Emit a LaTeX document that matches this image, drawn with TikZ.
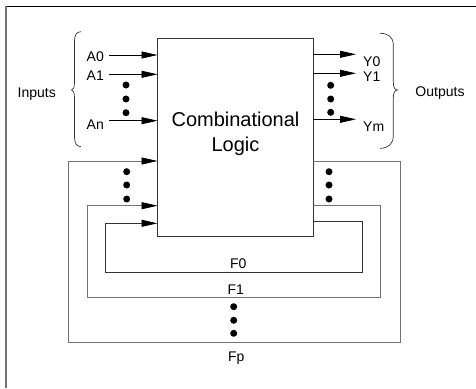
\documentclass[tikz,border=0pt]{standalone}
\usepackage{fontspec}
\setmainfont{Liberation Sans}
\usetikzlibrary{arrows.meta}
\begin{document}
\begin{tikzpicture}[x=1pt,y=-1pt,
  lbl/.style={font=\fontsize{14}{16}\selectfont, inner sep=0pt},
  arr/.style={-{Triangle[length=16pt,width=7pt,color=black]}, line width=0.8pt},
  bigdot/.style={circle, fill=black, inner sep=0pt, minimum size=7pt},
  fbdark/.style={line width=0.8pt, draw=black!80},
  fbgray/.style={line width=0.8pt, draw=black!55},
  brc/.style={line width=0.7pt, draw=black!80}]
\useasboundingbox (0,0) rectangle (476,388);
\fill[white] (0,0) rectangle (476,388);
% frame (only top and left edges visible)
\draw[line width=1pt, black] (6,6.5) -- (476,6.5);
\draw[line width=1.2pt, black!55] (6,6) -- (6,388);
% combinational logic box
\node[draw=black!80, line width=0.8pt, minimum width=155.8pt, minimum height=198pt, inner sep=0pt] (logic) at (235.4,137) {};
\node[align=center, font=\fontsize{20}{24.5}\selectfont, inner sep=0pt] (ltext) at (235.5,134) {Combinational\\Logic};
% input arrows
\coordinate (ia0) at (109.3,55); \coordinate (ib0) at (157.5,55);
\coordinate (ia1) at (109.3,74.3); \coordinate (ib1) at (157.5,74.3);
\coordinate (ian) at (109.3,120.7); \coordinate (ibn) at (157.5,120.7);
\draw[arr] (ia0) -- (ib0);
\draw[arr] (ia1) -- (ib1);
\draw[arr] (ian) -- (ibn);
\node[lbl, anchor=base east] (A0) at (104,61.7) {A0};
\node[lbl, anchor=base east] (A1) at (104,80.7) {A1};
\node[lbl, anchor=base east] (An) at (104,129.3) {An};
\node[bigdot] (di1) at (126,85) {};
\node[bigdot] (di2) at (126,99) {};
\node[bigdot] (di3) at (126,112.7) {};
% output arrows
\coordinate (oa0) at (313.3,54.3); \coordinate (ob0) at (356,54.3);
\coordinate (oa1) at (313.3,73.3); \coordinate (ob1) at (356,73.3);
\coordinate (oam) at (313.3,119.3); \coordinate (obm) at (356,119.3);
\draw[arr] (oa0) -- (ob0);
\draw[arr] (oa1) -- (ob1);
\draw[arr] (oam) -- (obm);
\node[lbl, anchor=base west] (Y0) at (363,66.3) {Y0};
\node[lbl, anchor=base west] (Y1) at (363,81.5) {Y1};
\node[lbl, anchor=base west] (Ym) at (363,131.3) {Ym};
\node[bigdot] (do1) at (330.7,85.3) {};
\node[bigdot] (do2) at (330.7,99) {};
\node[bigdot] (do3) at (330.7,112.3) {};
% braces
\draw[brc] (81,31.7) .. controls (76.5,31.7) and (74.5,35) .. (74.5,41)
  -- (74.5,82) .. controls (74.5,87.5) and (73.5,90) .. (71.5,90)
  .. controls (73.5,90) and (74.5,92.5) .. (74.5,98)
  -- (74.5,137) .. controls (74.5,143) and (76.5,146.7) .. (81,146.7);
\draw[brc] (380,33.3) .. controls (388,33.3) and (393.3,37) .. (393.3,45)
  -- (393.3,82) .. controls (393.3,87.5) and (395,90) .. (397.5,90)
  .. controls (395,90) and (393.3,92.5) .. (393.3,98)
  -- (393.3,136) .. controls (393.3,144) and (388,148.3) .. (380,148.3);
\node[lbl, anchor=base] (inputs) at (36.7,97.3) {Inputs};
\node[lbl, anchor=base] (outputs) at (440,96.7) {Outputs};
% feedback Fp
\coordinate (p1) at (313.3,161); \coordinate (p2) at (400,161);
\coordinate (p3) at (400,342.7); \coordinate (p4) at (68,342.7);
\coordinate (p5) at (68,161); \coordinate (p6) at (157.5,161);
\draw[fbgray] (p1) -- (p2) -- (p3) -- (p4) -- (p5);
\draw[arr, draw=black!55] (p5) -- (p6);
% feedback F1
\coordinate (q1) at (313.3,205.7); \coordinate (q2) at (380.7,205.7);
\coordinate (q3) at (380.7,297); \coordinate (q4) at (87.3,297);
\coordinate (q5) at (87.3,205.7); \coordinate (q6) at (157.5,205.7);
\draw[fbgray] (q1) -- (q2) -- (q3) -- (q4) -- (q5);
\draw[arr, draw=black!55] (q5) -- (q6);
% feedback F0
\coordinate (r1) at (313.3,221.7); \coordinate (r2) at (362.7,221.7);
\coordinate (r3) at (362.7,272.7); \coordinate (r4) at (105,272.7);
\coordinate (r5) at (105,223.3); \coordinate (r6) at (157.5,223.3);
\draw[fbdark] (r1) -- (r2) -- (r3) -- (r4) -- (r5);
\draw[arr, draw=black!80] (r5) -- (r6);
% feedback labels
\node[lbl, anchor=base] (F0) at (238.3,268.3) {F0};
\node[lbl, anchor=base] (F1) at (235.8,294.3) {F1};
\node[lbl, anchor=base] (Fp) at (236.3,361.7) {Fp};
% dots
\node[bigdot] (dl1) at (126.7,171.7) {};
\node[bigdot] (dl2) at (126.7,185) {};
\node[bigdot] (dl3) at (126.7,199) {};
\node[bigdot] (dr1) at (329,171.7) {};
\node[bigdot] (dr2) at (329,185) {};
\node[bigdot] (dr3) at (329,199) {};
\node[bigdot] (db1) at (233.7,306.7) {};
\node[bigdot] (db2) at (233.7,320.3) {};
\node[bigdot] (db3) at (233.7,333.3) {};
\end{tikzpicture}
\end{document}
